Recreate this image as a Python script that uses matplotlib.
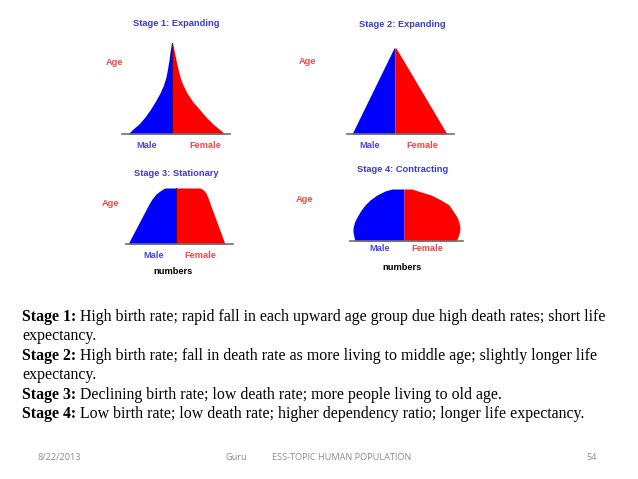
import matplotlib
matplotlib.use("Agg")
import matplotlib.pyplot as plt
import numpy as np

W, H = 638, 479

# pyramid shapes: age (height above base) and half-widths for male / female
s1_age = [0, 5, 10, 17, 24, 32, 41, 49, 57, 65, 74, 82, 91]
s1_male = [44, 39, 33, 27, 22, 17, 12, 8.5, 6, 4.5, 3, 2, 0.5]
s1_female = [53, 47, 41, 34, 28, 21, 15, 11, 8, 6, 4, 2.5, 0.5]

s2_age = [0, 86]
s2_male = [43, 1]
s2_female = [52, 1]

s3_age = [0, 20, 40, 45, 50, 53, 55, 56]
s3_male = [48, 37.5, 27, 24, 20, 16, 13, 11]
s3_female = [49, 41.6, 34.2, 32.5, 30.5, 28.5, 26, 24]

s4_age = [0, 4, 9, 13, 19, 24, 30, 36, 41, 46, 50, 52]
s4_male = [49, 50, 51, 51, 49.5, 47, 43.5, 39, 34, 27, 19, 12]
s4_female = [52, 54, 55.5, 56, 55, 53, 49, 45, 37, 27, 14, 8]

stages = ["Stage 1: Expanding", "Stage 2: Expanding",
          "Stage 3: Stationary", "Stage 4: Contracting"]

desc = [
    ("Stage 1:", " High birth rate; rapid fall in each upward age group due high death rates; short life"),
    ("", "expectancy."),
    ("Stage 2:", " High birth rate; fall in death rate as more living to middle age; slightly longer life"),
    ("", "expectancy."),
    ("Stage 3:", " Declining birth rate; low death rate; more people living to old age."),
    ("Stage 4:", " Low birth rate; low death rate; higher dependency ratio; longer life expectancy."),
]

footer = ["8/22/2013", "Guru", "ESS-TOPIC HUMAN POPULATION", "54"]

fig = plt.figure(figsize=(W / 100, H / 100), dpi=100)
bg = fig.add_axes([0, 0, 1, 1])
bg.set_xlim(0, W)
bg.set_ylim(H, 0)
bg.axis("off")

BLUE = "#0000ff"
RED = "#ff0000"
TBLUE = "#3a3ad0"
LRED = "#f04848"
LBLUE = "#4646e0"


def pyramid(center, base, left, right, top, age, male, female, midline=False):
    ax = fig.add_axes([(center + left) / W, 1 - base / H,
                       (right - left) / W, top / H])
    ax.fill_betweenx(age, [-m for m in male], 0, color=BLUE, lw=0)
    ax.fill_betweenx(age, 0, female, color=RED, lw=0)
    if midline:
        ax.plot([0, 0], [0, age[-1]], color="#202040", lw=0.8)
    ax.set_xlim(left, right)
    ax.set_ylim(0, top)
    for s in ["top", "left", "right"]:
        ax.spines[s].set_visible(False)
    ax.spines["bottom"].set_color("#707070")
    ax.spines["bottom"].set_linewidth(1.2)
    ax.set_xticks([])
    ax.set_yticks([])
    ax.patch.set_alpha(0)
    return ax


pyramid(172, 134, -50, 58, 100, s1_age, s1_male, s1_female, midline=True)
pyramid(395, 134, -48, 59, 100, s2_age, s2_male, s2_female)
pyramid(176, 244, -50, 57, 70, s3_age, s3_male, s3_female, midline=True)
pyramid(404, 241, -54, 59, 70, s4_age, s4_male, s4_female)

lab = dict(fontsize=6.7, fontweight="bold", family="Liberation Sans",
           ha="center", va="center")
bg.text(176, 23, stages[0], color=TBLUE, **lab)
bg.text(402, 24, stages[1], color=TBLUE, **lab)
bg.text(176, 174, stages[2], color=TBLUE, **lab)
bg.text(403, 169, stages[3], color=TBLUE, **lab)

for x, y in [(115, 62), (308, 61), (111, 204), (305, 200)]:
    bg.text(x, y, "Age", color=LRED, **lab)
for x, y, xf, yf in [(147, 146, 205, 146), (370, 145, 422, 145),
                     (154, 255, 200, 256), (380, 248, 427, 248)]:
    bg.text(x, y, "Male", color=LBLUE, **lab)
    bg.text(xf, yf, "Female", color=LRED, **lab)
bg.text(173, 271, "numbers", color="black", **lab)
bg.text(402, 268, "numbers", color="black", **lab)

# description text
y0, dy = 321, 19.4
fs = 11.4
for i, (b, rest) in enumerate(desc):
    y = y0 + i * dy
    if b:
        t = bg.text(22, y, b, fontsize=fs, fontweight="bold",
                    family="Liberation Serif", va="baseline")
        fig.canvas.draw()
        bb = t.get_window_extent()
        x2 = bg.transData.inverted().transform((bb.x1, bb.y0))[0]
        bg.text(x2, y, rest, fontsize=fs, family="Liberation Serif",
                va="baseline")
    else:
        bg.text(22, y, rest, fontsize=fs, family="Liberation Serif",
                va="baseline")

ft = dict(fontsize=6.6, color="#8c8c8c", family="Open Sans", va="center")
bg.text(37, 457, footer[0], ha="left", **ft)
bg.text(226, 457, footer[1], ha="left", **ft)
bg.text(272, 457, footer[2], ha="left", **ft)
bg.text(597, 457, footer[3], ha="right", **ft)

fig.savefig("out.png", dpi=100)
